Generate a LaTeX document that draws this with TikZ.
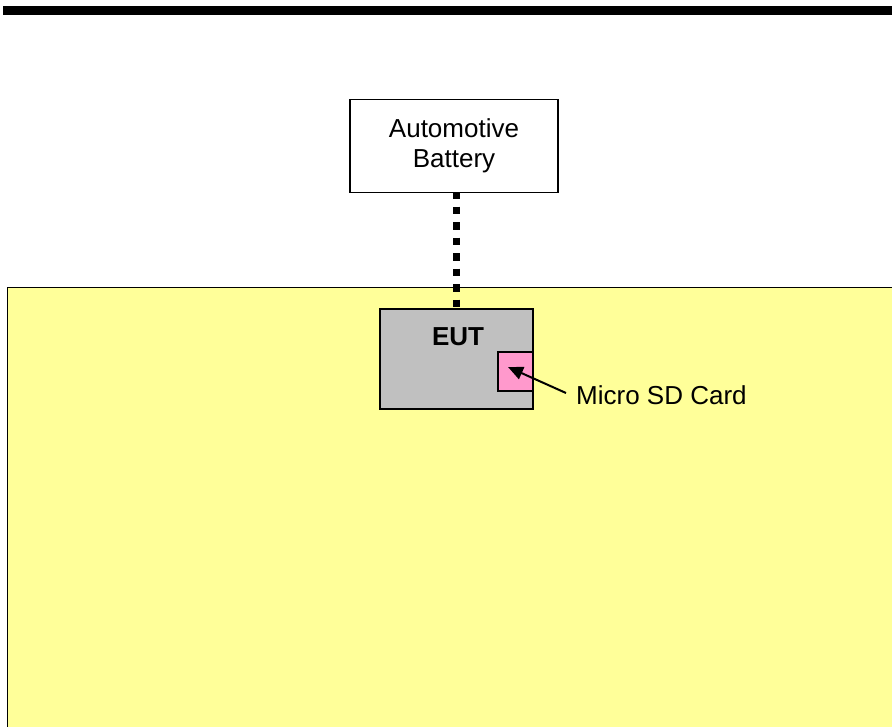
\documentclass[tikz,border=0pt]{standalone}
\usepackage{fontspec}
\setmainfont{Liberation Sans}
\usetikzlibrary{
    arrows.meta,
    positioning
}
\definecolor{benchyellow}{HTML}{FFFF99}
\definecolor{eutgray}{HTML}{C0C0C0}
\definecolor{cardpink}{HTML}{FF99CC}

\begin{document}
\begin{tikzpicture}[
    x=1pt, y=-1pt,
    every node/.style={
        inner sep=0pt,
        font=\fontsize{26}{30}\selectfont
    },
    box/.style={
        draw,
        line width=1.5pt
    },
    cable/.style={
        line width=7.7pt,
        dash pattern=on 7.75pt off 7.75pt,
        dash phase=2.25pt
    },
    pointer/.style={
        draw,
        line width=2pt,
        -{Triangle[length=15pt, width=13pt]}
    }
]

\useasboundingbox (0,0) rectangle (892,726);
\clip (0,0) rectangle (892,726);

% header rule and test table
\fill (3,6) rectangle (892,15);
\filldraw[fill=benchyellow, line width=1.5pt] (7.5,287.5) rectangle (920,760);

\node[box, fill=white, minimum width=208pt, minimum height=93pt, align=center]
    (battery) at (454,146) {Automotive\\Battery};
\node[box, fill=eutgray, minimum width=153pt, minimum height=100pt]
    (eut) at (456.5,359) {};
\node[font=\fontsize{26}{30}\selectfont\bfseries] (eutlabel) at (458,337) {EUT};
\node[box, fill=cardpink, minimum width=35pt, minimum height=39pt]
    (card) at (515.5,371.5) {};
\node[anchor=west] (sdtext) at (576,395) {Micro SD Card};

\draw[cable] (eut.north |- battery.south) -- (eut.north);
\draw[pointer] ([xshift=-10pt, yshift=2pt]sdtext.west) -- ([xshift=-7.5pt, yshift=4.5pt]card.center);

\end{tikzpicture}
\end{document}
